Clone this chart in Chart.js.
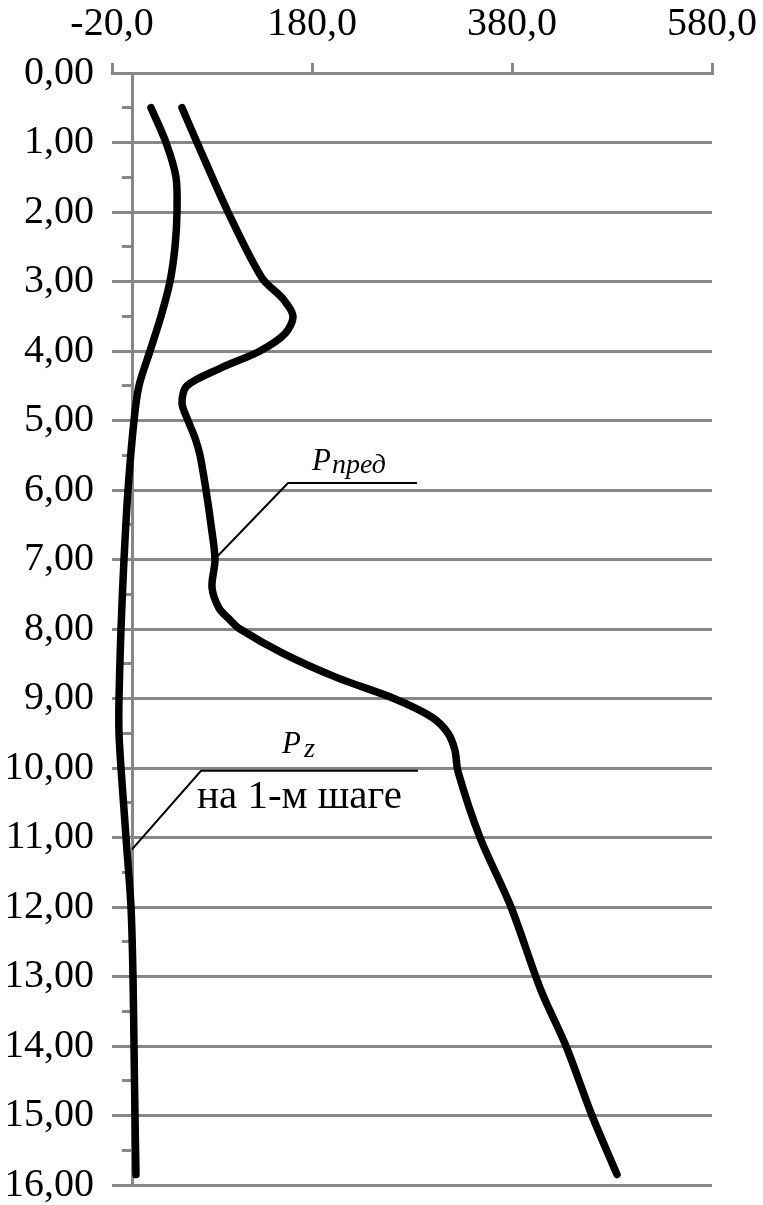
<!DOCTYPE html>
<html><head><meta charset="utf-8">
<script src="https://cdn.jsdelivr.net/npm/chart.js@4.4.1/dist/chart.umd.min.js"></script>
<style>html,body{margin:0;padding:0;background:#fff;} #wrap{width:763px;height:1205px;position:relative;}</style>
</head><body><div id="wrap"><canvas id="c"></canvas></div>
<script>
// ---- data ----
const depthsPz = [0.5, 1.0, 1.5, 2.0, 2.5, 3.0, 3.5, 4.0, 4.5, 5.0, 6.0, 7.0, 8.0, 9.0, 9.5, 10.0, 10.5, 11.0, 12.0, 13.0, 14.0, 15.0, 15.85];
const valuesPz = [19, 34, 44, 45, 43, 38, 29, 18, 7, 2, -4, -8, -11, -13, -13, -11, -8.5, -6, -1, 1, 2, 3, 4];
const depthsPpred = [0.5, 1.0, 2.0, 2.95, 3.25, 3.5, 3.75, 4.0, 4.25, 4.5, 4.75, 5.0, 5.25, 5.5, 6.0, 6.5, 7.0, 7.4, 7.7, 7.87, 8.0, 8.35, 8.7, 9.0, 9.27, 9.5, 9.75, 10.05, 11.0, 12.0, 13.2, 14.0, 15.0, 15.85];
const valuesPpred = [50, 65, 96, 130, 151, 161, 153, 128, 88, 55, 50, 56, 63, 68, 74, 79, 83, 80, 87, 98, 108, 151, 205, 262, 300, 316, 323, 326, 348, 379, 409, 434, 460, 485];
const xTickValues = [-20, 180, 380, 580];
const xTickLabels = ['-20,0', '180,0', '380,0', '580,0'];
const yTickValues = [0, 1, 2, 3, 4, 5, 6, 7, 8, 9, 10, 11, 12, 13, 14, 15, 16];
const yTickLabels = ['0,00', '1,00', '2,00', '3,00', '4,00', '5,00', '6,00', '7,00', '8,00', '9,00', '10,00', '11,00', '12,00', '13,00', '14,00', '15,00', '16,00'];
const yMinorTickValues = [0, 0.5, 1, 1.5, 2, 2.5, 3, 3.5, 4, 4.5, 5, 5.5, 6, 6.5, 7, 7.5, 8, 8.5, 9, 9.5, 10, 10.5, 11, 11.5, 12, 12.5, 13, 13.5, 14, 14.5, 15, 15.5, 16];
const seriesNames = ['Pпред', 'Pz на 1-м шаге'];

// ---- annotations (data coordinates) ----
const notes = {
  leaders: [
    [[85, 6.96], [156, 5.9], [285, 5.9]],
    [[0, 11.17], [69, 10.04], [286, 10.04]]
  ],
  texts: [
    {t: 'P', x: 180, y: 5.71, font: 'italic 31px "Liberation Serif"'},
    {t: 'пред', x: 200, y: 5.76, font: 'italic 28px "Liberation Serif"'},
    {t: 'P', x: 150, y: 9.78, font: 'italic 31px "Liberation Serif"'},
    {t: 'z', x: 172, y: 9.84, font: 'italic 28px "Liberation Serif"'},
    {t: 'на 1-м шаге', x: 65, y: 10.58, font: '41px "Liberation Serif"'}
  ]
};

const notesPlugin = {
  id: 'notes',
  afterDatasetsDraw(chart) {
    const {ctx} = chart;
    const xs = chart.scales.x, ys = chart.scales.y;
    ctx.save();
    ctx.strokeStyle = '#000';
    ctx.lineWidth = 2;
    notes.leaders.forEach(pts => {
      ctx.beginPath();
      pts.forEach((p, i) => {
        const px = xs.getPixelForValue(p[0]), py = ys.getPixelForValue(p[1]);
        if (i === 0) ctx.moveTo(px, py); else ctx.lineTo(px, py);
      });
      ctx.stroke();
    });
    ctx.fillStyle = '#000';
    ctx.textAlign = 'left';
    ctx.textBaseline = 'alphabetic';
    notes.texts.forEach(n => {
      ctx.font = n.font;
      ctx.fillText(n.t, xs.getPixelForValue(n.x), ys.getPixelForValue(n.y));
    });
    ctx.restore();
  }
};

const bgPlugin = {
  id: 'bg',
  beforeDraw(chart) {
    const {ctx, width, height} = chart;
    ctx.save(); ctx.fillStyle = '#fff'; ctx.fillRect(0, 0, width, height); ctx.restore();
  }
};

const gridColor = '#878787';
const tickFont = {family: '"Liberation Serif", "Times New Roman", serif', size: 40, lineHeight: 1};

new Chart(document.getElementById('c'), {
  type: 'line',
  data: {
    datasets: [
      {label: seriesNames[0], data: depthsPpred.map((d, i) => ({x: valuesPpred[i], y: d}))},
      {label: seriesNames[1], data: depthsPz.map((d, i) => ({x: valuesPz[i], y: d}))}
    ]
  },
  options: {
    responsive: true,
    maintainAspectRatio: false,
    animation: false,
    indexAxis: 'y',
    layout: {padding: {top: 0, left: 8, right: 51, bottom: 20}},
    elements: {
      line: {borderColor: '#000', borderWidth: 7.5, tension: 0.3, borderCapStyle: 'round', borderJoinStyle: 'round', fill: false},
      point: {radius: 0, hoverRadius: 0}
    },
    plugins: {legend: {display: false}, tooltip: {enabled: false}},
    scales: {
      x: {
        type: 'linear', position: 'top', min: -20, max: 580,
        afterBuildTicks: s => { s.ticks = xTickValues.map(v => ({value: v})); },
        afterFit: s => { s.height = 73; s.paddingLeft = 0; s.paddingRight = 0; s.paddingTop = 0; s.paddingBottom = 0; },
        ticks: {
          color: '#000', font: tickFont, padding: 19, maxRotation: 0, autoSkip: false,
          callback: (v) => xTickLabels[xTickValues.indexOf(v)]
        },
        grid: {display: true, drawOnChartArea: false, drawTicks: true, tickLength: 10, color: gridColor, lineWidth: 3},
        border: {display: true, color: gridColor, width: 3}
      },
      y: {
        type: 'linear', position: 'left', reverse: true, min: 0, max: 16,
        afterBuildTicks: s => { s.ticks = yTickValues.map(v => ({value: v})); },
        afterFit: s => { s.width = 104; s.paddingLeft = 0; s.paddingRight = 0; s.paddingTop = 0; s.paddingBottom = 0; },
        ticks: {
          color: '#000', font: tickFont, padding: 18, autoSkip: false,
          callback: (v) => yTickLabels[yTickValues.indexOf(v)]
        },
        grid: {display: true, drawOnChartArea: true, drawTicks: false, color: gridColor, lineWidth: 3},
        border: {display: false}
      },
      yMinor: {
        type: 'linear', axis: 'y', position: {x: 0}, reverse: true, min: 0, max: 16,
        afterBuildTicks: s => { s.ticks = yMinorTickValues.map(v => ({value: v})); },
        afterFit: s => { s.paddingLeft = 0; s.paddingRight = 0; s.paddingTop = 0; s.paddingBottom = 0; },
        ticks: {display: false},
        grid: {display: true, drawOnChartArea: false, drawTicks: true, tickLength: 9, color: gridColor, lineWidth: 3},
        border: {display: true, color: gridColor, width: 3}
      }
    }
  },
  plugins: [bgPlugin, notesPlugin]
});
</script>
</body></html>
